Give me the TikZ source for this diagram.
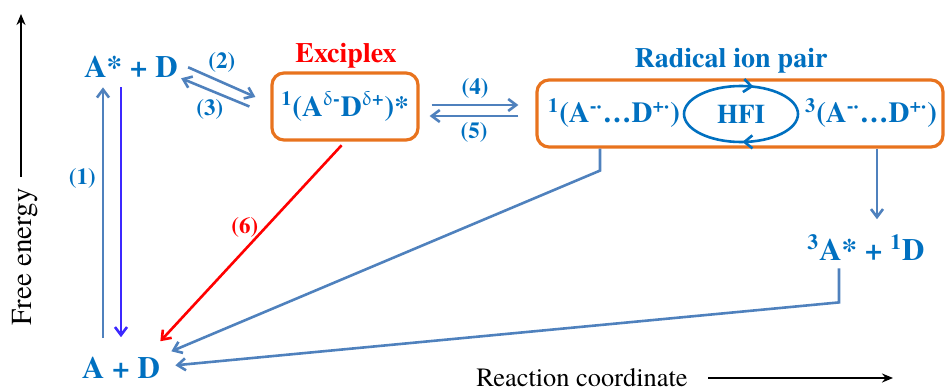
\documentclass[tikz,border=0pt]{standalone}
\usepackage{fontspec}
\setmainfont{TeX Gyre Termes}
\usepackage{upgreek}
\usepackage{tikz}
\usetikzlibrary{arrows.meta,decorations.markings}
\definecolor{txtblue}{RGB}{0,112,192}
\definecolor{lineblue}{RGB}{79,129,189}
\definecolor{frameorange}{RGB}{232,115,30}
\definecolor{emitblue}{RGB}{60,40,255}
\newcommand{\fsz}[1]{\fontsize{#1}{#1}\selectfont}
\newcommand{\dlt}{\ensuremath{\updelta}}

\begin{document}
\begin{tikzpicture}[x=0.5pt, y=-0.5pt,
  species/.style={text=txtblue, font=\fsz{15.5}\bfseries, inner sep=0pt,
                  anchor=base},
  inbox/.style={text=txtblue, font=\fsz{14.5}\bfseries, inner sep=0pt},
  framebox/.style={draw=frameorange, line width=1.6pt, rounded corners=6pt,
                   inner sep=0pt},
  heading/.style={font=\fsz{14}\bfseries, inner sep=0pt},
  num/.style={text=txtblue, font=\fsz{11.5}\bfseries, inner sep=0pt},
  flow/.style={draw=lineblue, line width=1.3pt,
               -{Straight Barb[length=4pt,width=6pt]}},
  emit/.style={flow, draw=emitblue},
  axisarrow/.style={draw=black, line width=1.1pt,
                    -{Stealth[length=5.5pt,width=4.5pt]}}]
\useasboundingbox (0,0) rectangle (946,390);

% species
\node[species] (astar) at (131,78) {A* + D};
\node[species] (ad) at (121,378) {A + D};
\node[species] (ta) at (866,260) {\textsuperscript{3}A* + \textsuperscript{1}D};

% exciplex
\node[framebox, inbox, minimum width=73pt, minimum height=33.5pt] (exc)
  at (345,106.5) {\textsuperscript{1}(A\textsuperscript{\dlt-}D\textsuperscript{\dlt+})*};
\node[heading, text=red] (exclab) at (346,56) {Exciplex};

% radical ion pair
\node[framebox, minimum width=203pt, minimum height=33.5pt] (rip) at (740,113.5) {};
\node[heading, text=txtblue] (riplab) at (731,61) {Radical ion pair};
\node[inbox] (s) at (614,113) {\textsuperscript{1}(A\textsuperscript{-·}…D\textsuperscript{+·})};
\node[inbox] (t) at (871,113) {\textsuperscript{3}(A\textsuperscript{-·}…D\textsuperscript{+·})};
\node[num, font=\fsz{13.5}\bfseries] (hfi) at (741,114) {HFI};
\draw[txtblue, line width=1.3pt,
  decoration={markings,
    mark=at position 0.245 with {\arrow{Straight Barb[length=4pt,width=6.5pt]}},
    mark=at position 0.796 with {\arrow{Straight Barb[length=4pt,width=6.5pt]}}},
  postaction=decorate] (hfi.center) ellipse [x radius=57, y radius=28];

% excitation / emission
\draw[flow, shorten <=9pt, shorten >=4.5pt] ([xshift=-9pt]ad.north)
  -- node[num, pos=.64, left=3pt] {(1)} ([xshift=-9pt]ad.north |- astar.south);
\draw[emit, shorten <=4.5pt, shorten >=9.5pt] (ad.north |- astar.south) -- (ad.north);

% exciplex formation and back
\draw[flow] ([xshift=5pt]astar.east)
  -- node[num, yshift=10pt] {(2)} ([xshift=-7.5pt,yshift=4.75pt]exc.west);
\draw[flow] ([xshift=-10.5pt]exc.west)
  -- node[num, xshift=-2.75pt, yshift=-8.75pt] {(3)} ([xshift=1.5pt,yshift=-5.5pt]astar.east);
\draw[flow] ([xshift=6pt,yshift=0.75pt]exc.east)
  -- node[num, yshift=8.5pt] {(4)} ([xshift=-8.5pt,yshift=0.75pt]exc.east -| rip.west);
\draw[flow] ([xshift=-8.5pt,yshift=-4.75pt]exc.east -| rip.west)
  -- node[num, yshift=-8pt] {(5)} ([xshift=5pt,yshift=-4.75pt]exc.east);

% decay to ground state
\draw[flow, draw=red, shorten <=2.5pt] (exc.south)
  -- node[num, text=red, pos=.43, left=3pt] {(6)} ([yshift=7.5pt]ad.north east);
\draw[flow] ([xshift=-7pt]s.south |- rip.south) -- ++(0,22)
  -- ([xshift=5.5pt,yshift=8pt]ad.east);
\draw[flow, shorten >=7.5pt] ([xshift=3pt]t.south |- rip.south)
  -- ([xshift=3pt]t.south |- ta.north);
\draw[flow] ([xshift=-13.5pt,yshift=-4pt]ta.south) -- ++(0,34)
  -- ([xshift=7.5pt,yshift=1pt]ad.east);

% axes
\node[inner sep=0pt, rotate=90, font=\fsz{14.5}] (fe) at (25,257) {Free energy};
\coordinate (ytop) at (21,14);
\draw[axisarrow] ([yshift=5.5pt]fe.east -| ytop) -- (ytop);
\node[inner sep=0pt, font=\fsz{13.2}] (rc) at (582,378) {Reaction coordinate};
\coordinate (xend) at (893,0);
\draw[axisarrow] ([xshift=10pt]rc.east) -- (rc.east -| xend);
\end{tikzpicture}
\end{document}
